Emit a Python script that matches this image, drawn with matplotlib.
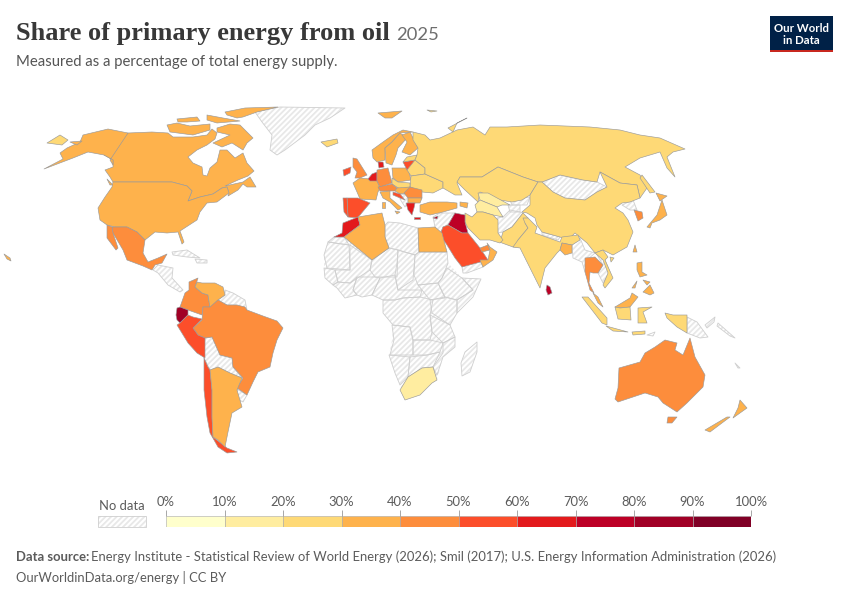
import matplotlib
matplotlib.use("Agg")
import matplotlib.pyplot as plt
import numpy as np
from matplotlib.collections import PolyCollection
from matplotlib.colors import BoundaryNorm, ListedColormap
from matplotlib.patches import Rectangle

plt.rcParams['font.family'] = ['Lato', 'DejaVu Sans']
plt.rcParams['hatch.linewidth'] = 1.3

# Legend
bin_edges = [0, 10, 20, 30, 40, 50, 60, 70, 80, 90, 100]
bin_colors = ['#ffffcc', '#ffeda0', '#fed976', '#feb24c', '#fd8d3c', '#fc4e2a',
              '#e31a1c', '#bd0026', '#a10026', '#800026']
tick_labels = ['0%', '10%', '20%', '30%', '40%', '50%', '60%', '70%', '80%', '90%', '100%']

# Country outlines, in picture pixels
# North America
canada = [(128, 133), (152, 132), (168, 133), (173, 137), (193, 137), (207, 135), (212, 129), (217, 133), (215, 139),
          (207, 145), (197, 150), (188, 157), (193, 163), (202, 167), (203, 175), (207, 176), (210, 168), (217, 162),
          (220, 150), (227, 150), (235, 158), (243, 153), (247, 163), (254, 171), (248, 176), (238, 180), (225, 186),
          (243, 182), (250, 177), (256, 187), (247, 187), (243, 184), (238, 190), (228, 196), (229, 193), (227, 187),
          (222, 188), (213, 194), (200, 197), (188, 201), (192, 191), (187, 186), (172, 182), (113, 182), (110, 177),
          (105, 170), (113, 167), (113, 160), (104, 155)]
baffin = [(217, 128), (230, 124), (240, 125), (253, 138), (247, 143), (243, 150), (232, 143), (222, 147), (213, 143), (230, 135), (217, 132)]
victoria = [(167, 125), (177, 123), (190, 126), (210, 124), (210, 130), (193, 135), (170, 132)]
ellesmere = [(225, 112), (245, 108), (278, 107), (257, 112), (243, 117), (237, 118), (227, 115)]
banks = [(177, 119), (197, 117), (200, 121), (187, 122), (178, 122)]
devon = [(207, 115), (223, 118), (240, 121), (217, 123), (207, 120)]
vancouver = [(107, 179), (113, 185), (110, 185)]
alaska = [(128, 133), (108, 129), (83, 135), (80, 142), (67, 148), (60, 153), (63, 159), (44, 169), (73, 158), (88, 152),
          (104, 155), (113, 160), (113, 165), (110, 160)]
kodiak = [(70, 142), (82, 141), (77, 145)]
usa = [(113, 182), (172, 182), (187, 186), (192, 191), (188, 201), (200, 197), (213, 194), (222, 188), (227, 187), (229, 193),
       (217, 202), (207, 203), (200, 212), (197, 220), (180, 231), (184, 242), (182, 244), (178, 232), (167, 233), (155, 232),
       (145, 240), (137, 232), (127, 227), (115, 227), (107, 225), (100, 220), (98, 208), (105, 197), (112, 187)]
hawaii = [(4, 254), (10, 258), (11, 261), (7, 259)]
mexico = [(115, 227), (127, 227), (137, 232), (145, 240), (143, 253), (148, 262), (158, 258), (167, 254), (162, 263), (155, 265),
          (152, 270), (143, 266), (127, 260), (123, 250), (113, 233), (112, 227)]
baja = [(107, 225), (112, 227), (113, 233), (118, 248), (116, 250), (107, 238)]
central_america = [(153, 270), (158, 265), (173, 268), (172, 278), (183, 290), (180, 292), (168, 285), (158, 273)]
cuba = [(172, 252), (187, 250), (200, 258), (187, 257), (173, 255)]
hispaniola = [(195, 259), (207, 260), (207, 263), (197, 263)]
greenland = [(255, 112), (280, 107), (345, 108), (330, 118), (315, 125), (305, 135), (285, 150), (277, 155), (270, 150), (272, 135), (262, 122)]

# South America
colombia = [(189, 282), (198, 278), (195, 287), (202, 293), (208, 295), (210, 307), (203, 307), (202, 315), (188, 310), (180, 307), (185, 293), (189, 290)]
venezuela = [(197, 282), (202, 283), (215, 283), (223, 287), (225, 295), (218, 300), (210, 308), (208, 295), (202, 293), (195, 287)]
guianas = [(225, 290), (233, 293), (245, 300), (247, 310), (237, 305), (227, 305), (218, 300), (225, 295)]
brazil = [(210, 307), (218, 300), (227, 305), (237, 305), (245, 307), (247, 310), (263, 316), (277, 321), (283, 328), (277, 340), (273, 353),
          (270, 367), (258, 372), (253, 382), (247, 395), (240, 390), (237, 388), (243, 378), (233, 367), (232, 358), (220, 355), (212, 337),
          (205, 338), (198, 335), (193, 328), (202, 320), (203, 307)]
ecuador = [(177, 308), (180, 307), (188, 310), (188, 315), (180, 323), (177, 320), (176, 315)]
peru = [(180, 323), (188, 315), (193, 317), (202, 319), (193, 328), (198, 335), (205, 338), (205, 358), (197, 353), (188, 343), (177, 325)]
chile = [(204, 358), (208, 367), (210, 370), (212, 390), (212, 417), (213, 437), (227, 448), (237, 452), (227, 453), (218, 447), (210, 433), (207, 417), (204, 390), (204, 375)]
argentina = [(210, 370), (218, 367), (230, 373), (242, 378), (237, 390), (242, 407), (232, 413), (228, 432), (225, 447), (218, 440), (213, 437), (212, 417), (212, 390)]
bolivia = [(205, 338), (212, 337), (220, 355), (232, 358), (233, 367), (242, 378), (230, 373), (218, 367), (210, 370), (204, 358)]
uruguay = [(237, 389), (247, 395), (243, 402), (236, 398)]

# Europe
iceland = [(321, 142), (337, 139), (338, 143), (327, 147)]
svalbard = [(378, 113), (402, 111), (392, 118), (385, 118)]
norway = [(373, 158), (372, 150), (383, 142), (393, 135), (403, 130), (413, 132), (400, 133), (392, 142), (385, 148), (385, 160), (377, 162)]
sweden = [(385, 148), (392, 142), (400, 133), (407, 138), (398, 148), (396, 155), (392, 165), (386, 163)]
finland = [(402, 135), (410, 132), (418, 148), (410, 155), (402, 152), (407, 142)]
uk = [(353, 158), (357, 159), (367, 175), (360, 178), (355, 178), (357, 172), (353, 167)]
ireland = [(343, 170), (351, 167), (350, 173), (344, 176)]
france = [(353, 183), (360, 178), (370, 179), (377, 181), (380, 188), (378, 192), (376, 200), (360, 199), (357, 192)]
spain = [(347, 198), (358, 198), (370, 203), (360, 215), (357, 218), (348, 217)]
portugal = [(343, 198), (347, 198), (348, 217), (344, 212)]
benelux = [(368, 179), (372, 174), (377, 172), (377, 181), (370, 181)]
denmark = [(378, 162), (383, 162), (384, 167), (379, 168)]
germany = [(377, 170), (388, 168), (392, 183), (380, 187), (377, 181)]
poland = [(392, 168), (408, 168), (411, 180), (398, 182), (393, 178)]
lithuania = [(403, 162), (415, 160), (417, 167), (407, 170)]
latvia_estonia = [(407, 157), (417, 155), (415, 160), (403, 162)]
belarus = [(415, 160), (425, 168), (425, 174), (411, 176), (407, 170)]
ukraine = [(411, 176), (425, 174), (443, 182), (443, 188), (433, 193), (422, 192), (410, 187)]
czechia = [(392, 178), (398, 182), (410, 183), (410, 187), (400, 189), (392, 184)]
austria = [(378, 187), (392, 184), (397, 188), (395, 191), (380, 191)]
italy = [(380, 192), (390, 191), (390, 198), (402, 208), (398, 210), (390, 202), (383, 198)]
sardinia = [(382, 202), (385, 202), (385, 208), (382, 208)]
sicily = [(395, 211), (400, 212), (397, 214)]
hungary = [(397, 188), (410, 187), (413, 192), (400, 194), (395, 191)]
romania = [(410, 187), (422, 190), (422, 198), (408, 198), (404, 193)]
bulgaria = [(408, 198), (422, 198), (420, 203), (408, 203)]
croatia = [(393, 192), (400, 194), (405, 200), (400, 198), (393, 195)]
serbia_bosnia = [(400, 194), (408, 195), (408, 203), (405, 207), (400, 199)]
greece = [(406, 203), (415, 203), (414, 208), (412, 215), (408, 210)]
crete = [(414, 217), (420, 217), (420, 219), (414, 219)]
cyprus = [(433, 218), (438, 216), (437, 219)]
turkey = [(420, 205), (430, 202), (447, 202), (457, 203), (457, 208), (443, 212), (430, 215), (420, 212)]
caucasus = [(460, 202), (468, 203), (467, 208), (460, 206)]

# Russia and Central Asia
russia = [(413, 132), (425, 135), (430, 140), (440, 138), (457, 130), (473, 127), (485, 135), (490, 127), (507, 127), (540, 125), (590, 127),
          (620, 130), (640, 135), (660, 138), (685, 149), (673, 152), (667, 157), (675, 177), (667, 168), (660, 152), (650, 155), (640, 158),
          (625, 167), (640, 175), (647, 188), (640, 198), (637, 185), (620, 183), (600, 172), (597, 182), (583, 180), (560, 175), (542, 182),
          (538, 182), (523, 177), (498, 167), (482, 177), (460, 177), (457, 183), (462, 195), (455, 195), (443, 188), (443, 182), (425, 174),
          (425, 168), (415, 160), (417, 155), (418, 148), (413, 140)]
chukotka = [(47, 143), (60, 135), (68, 140), (62, 145)]
novaya_zemlya = [(448, 128), (467, 118), (457, 123), (453, 132)]
franz_josef = [(427, 110), (437, 111), (431, 112)]
sakhalin = [(642, 175), (655, 192), (650, 193), (640, 178)]
kazakhstan = [(460, 177), (482, 177), (498, 167), (523, 177), (538, 182), (530, 195), (522, 200), (512, 202), (500, 200), (480, 192), (478, 202), (465, 190), (457, 182)]
uzbekistan = [(478, 193), (488, 193), (510, 205), (502, 205), (497, 207), (480, 200)]
turkmenistan = [(475, 205), (480, 200), (497, 207), (503, 217), (493, 215), (483, 212), (477, 212)]
kyrgyzstan = [(510, 200), (530, 197), (527, 205), (512, 205)]
tajikistan = [(508, 205), (520, 205), (520, 212), (510, 212)]
afghanistan = [(497, 218), (503, 217), (510, 210), (520, 212), (523, 213), (512, 227), (503, 232), (498, 233)]
mongolia = [(542, 182), (560, 175), (583, 180), (597, 182), (607, 187), (597, 192), (585, 200), (565, 198), (553, 192)]

# Middle East and Africa
pakistan = [(500, 242), (503, 232), (512, 227), (523, 213), (528, 218), (525, 223), (528, 228), (518, 240), (520, 247), (513, 247), (502, 243)]
iran = [(465, 213), (472, 217), (477, 212), (483, 212), (493, 215), (498, 220), (498, 233), (503, 240), (500, 243), (490, 240), (480, 240), (468, 228), (465, 222)]
iraq = [(455, 213), (465, 215), (465, 222), (468, 233), (462, 233), (448, 225)]
saudi = [(443, 227), (448, 225), (462, 233), (468, 233), (480, 248), (488, 260), (462, 267), (455, 258), (447, 245), (440, 235)]
uae = [(480, 248), (488, 245), (490, 250), (482, 252)]
oman = [(487, 243), (490, 247), (497, 252), (493, 260), (483, 267), (480, 260), (488, 260), (490, 250)]
yemen = [(462, 267), (480, 260), (483, 267), (467, 273), (463, 273)]
levant = [(433, 217), (440, 213), (455, 213), (448, 225), (443, 227), (440, 235), (435, 227)]
egypt = [(418, 228), (435, 227), (442, 233), (447, 252), (419, 252)]
morocco = [(334, 237), (342, 233), (343, 223), (358, 217), (360, 225), (344, 237)]
algeria = [(358, 217), (382, 213), (385, 225), (385, 237), (389, 248), (372, 260), (344, 237), (360, 225)]
libya = [(385, 225), (388, 222), (400, 223), (418, 228), (419, 252), (415, 255), (398, 250), (389, 248), (385, 237)]
africa_land = [(334, 237), (328, 242), (324, 255), (324, 268), (325, 278), (333, 285), (337, 288), (345, 298), (357, 295), (362, 297), (372, 295),
               (383, 300), (383, 313), (393, 325), (392, 340), (389, 355), (395, 373), (400, 385), (405, 400), (437, 380), (443, 357), (455, 347),
               (455, 337), (450, 325), (457, 313), (473, 297), (481, 279), (462, 278), (448, 263), (447, 252), (419, 252), (389, 248), (372, 260), (344, 237)]
w_sahara = [(328, 242), (334, 237), (344, 237), (349, 245)]
mauritania = [(328, 242), (349, 245), (350, 270), (327, 268), (324, 255)]
mali = [(350, 245), (372, 260), (370, 270), (350, 283), (338, 282), (335, 270), (350, 270)]
niger = [(372, 260), (389, 248), (398, 250), (397, 277), (375, 277), (370, 270)]
chad = [(398, 250), (415, 255), (413, 280), (398, 290), (395, 275), (397, 263)]
sudan = [(419, 252), (447, 252), (448, 263), (442, 278), (438, 283), (418, 285), (414, 275), (415, 255)]
ethiopia = [(442, 278), (447, 268), (462, 278), (473, 290), (457, 300), (445, 297), (438, 283)]
somalia = [(462, 278), (481, 279), (473, 297), (457, 313), (457, 300), (473, 290)]
nigeria = [(353, 290), (357, 277), (375, 277), (380, 278), (372, 295), (362, 297), (357, 295)]
cameroon_car = [(372, 295), (380, 278), (395, 275), (398, 290), (422, 290), (420, 297), (403, 298), (395, 300), (383, 300)]
south_sudan = [(418, 285), (438, 283), (445, 298), (430, 300), (422, 290)]
drc = [(395, 300), (403, 298), (420, 297), (433, 300), (430, 315), (432, 332), (430, 340), (413, 340), (410, 327), (393, 325), (383, 313), (383, 300)]
kenya_uganda = [(430, 300), (445, 297), (457, 300), (457, 313), (450, 325), (432, 313)]
tanzania = [(430, 315), (450, 325), (455, 337), (443, 343), (432, 332)]
angola = [(392, 325), (410, 327), (413, 340), (413, 355), (390, 355), (394, 340)]
zambia = [(413, 340), (430, 340), (443, 343), (440, 352), (427, 355), (413, 355)]
mozambique = [(455, 337), (455, 347), (443, 357), (437, 375), (433, 367), (443, 353), (443, 343)]
namibia = [(389, 355), (410, 357), (408, 377), (400, 385), (395, 373)]
botswana_zimbabwe = [(410, 357), (427, 355), (440, 352), (433, 367), (422, 368), (408, 377)]
senegal_guinea = [(324, 268), (335, 270), (338, 282), (333, 285), (325, 278)]
ivory_ghana = [(338, 282), (350, 283), (357, 277), (353, 290), (357, 295), (345, 298), (337, 288), (333, 285)]
madagascar = [(477, 342), (477, 352), (470, 372), (462, 376), (461, 363), (465, 352)]
south_africa = [(408, 377), (422, 368), (433, 367), (437, 380), (432, 383), (420, 395), (405, 400), (400, 390)]

# Asia
china = [(530, 195), (538, 182), (542, 182), (553, 192), (565, 198), (585, 200), (597, 192), (607, 187), (600, 172), (620, 183), (637, 185),
         (640, 198), (630, 202), (622, 203), (615, 208), (623, 213), (628, 220), (633, 232), (627, 247), (613, 255), (603, 250), (595, 253),
         (587, 243), (575, 233), (568, 240), (560, 237), (542, 232), (537, 225), (535, 218), (527, 213), (522, 212), (530, 205)]
india = [(523, 218), (528, 218), (537, 227), (535, 233), (560, 242), (562, 237), (578, 235), (580, 240), (572, 245), (562, 243), (560, 250),
         (557, 253), (545, 268), (540, 288), (530, 268), (520, 248), (513, 247), (518, 240), (528, 228), (525, 223)]
bangladesh = [(562, 243), (572, 245), (572, 253), (565, 255), (560, 250)]
nepal = [(542, 232), (560, 237), (558, 240), (542, 235)]
myanmar = [(572, 245), (580, 238), (585, 250), (595, 253), (587, 260), (588, 272), (585, 272), (582, 262), (573, 258)]
thailand = [(585, 258), (595, 257), (603, 265), (598, 273), (593, 273), (590, 272), (589, 283), (594, 293), (590, 290), (585, 272)]
indochina = [(596, 253), (603, 255), (610, 272), (603, 283), (598, 273), (603, 265)]
vietnam = [(595, 253), (603, 250), (608, 257), (605, 260), (613, 278), (605, 288), (603, 285), (608, 273), (603, 260)]
malaya = [(593, 293), (598, 297), (603, 307), (598, 303)]
sabah_sarawak = [(615, 307), (630, 298), (632, 293), (638, 297), (630, 307), (620, 308)]
kalimantan = [(615, 307), (620, 308), (630, 307), (631, 320), (618, 319)]
sumatra = [(582, 297), (588, 297), (607, 318), (607, 325), (602, 323)]
java = [(606, 326), (628, 332), (613, 331)]
sulawesi = [(638, 308), (652, 307), (643, 312), (647, 323), (638, 323)]
sunda = [(632, 332), (645, 331), (645, 334), (633, 335)]
west_papua = [(665, 313), (673, 315), (687, 315), (687, 333), (677, 327), (667, 318)]
png = [(687, 317), (697, 322), (708, 337), (700, 338), (687, 333)]
new_britain = [(705, 325), (715, 317), (714, 322), (707, 328)]
solomons = [(718, 323), (735, 338), (730, 336), (717, 326)]
new_caledonia = [(735, 363), (740, 368), (738, 368)]
timor = [(647, 335), (655, 332), (653, 336)]
luzon = [(637, 263), (642, 262), (642, 272), (647, 275), (640, 277), (637, 270)]
visayas = [(643, 280), (650, 282), (647, 285)]
mindanao = [(643, 292), (650, 285), (654, 293), (650, 295)]
palawan = [(632, 288), (637, 281), (635, 288)]
taiwan = [(635, 245), (637, 252), (633, 252)]
hainan = [(610, 257), (614, 258), (611, 262)]
sri_lanka = [(547, 285), (550, 287), (552, 293), (548, 295), (546, 290)]
honshu = [(647, 227), (657, 215), (662, 200), (667, 215), (660, 220), (652, 223), (650, 228)]
hokkaido = [(656, 193), (667, 196), (660, 201)]
south_korea = [(634, 210), (642, 212), (643, 218), (638, 221)]
north_korea = [(622, 205), (633, 200), (637, 210), (630, 210)]

# Oceania
australia = [(615, 399), (618, 388), (619, 368), (640, 362), (645, 353), (655, 347), (665, 340), (677, 343), (675, 350), (683, 355), (690, 338),
             (695, 357), (705, 375), (703, 387), (687, 403), (677, 412), (663, 403), (658, 397), (645, 393), (630, 398), (618, 402)]
tasmania = [(668, 417), (677, 417), (672, 423), (667, 423)]
nz_north = [(740, 400), (747, 408), (733, 418), (738, 408)]
nz_south = [(730, 417), (710, 432), (705, 430), (727, 417)]

# Places without data
no_data_shapes = [africa_land, greenland, central_america, cuba, hispaniola, guianas, bolivia, uruguay, serbia_bosnia, kyrgyzstan, tajikistan, afghanistan,
                  mongolia, yemen, levant, libya, w_sahara, mauritania, mali, niger, chad, sudan, ethiopia, somalia, nigeria, cameroon_car,
                  south_sudan, drc, kenya_uganda, tanzania, angola, zambia, mozambique, namibia, botswana_zimbabwe, senegal_guinea,
                  ivory_ghana, madagascar, nepal, myanmar, indochina, png, new_britain, solomons, new_caledonia, timor, north_korea]

# Places with a share, same order in both lists
shapes = [canada, baffin, victoria, ellesmere, banks, devon, vancouver, alaska, kodiak, usa, hawaii, mexico, baja,
          colombia, venezuela, brazil, ecuador, peru, chile, argentina,
          iceland, svalbard, norway, sweden, finland, uk, ireland, france, spain, portugal, benelux, denmark,
          germany, poland, lithuania, latvia_estonia, belarus, ukraine, czechia, austria, italy, sardinia, sicily,
          hungary, romania, bulgaria, croatia, greece, crete, cyprus, turkey, caucasus,
          russia, chukotka, novaya_zemlya, franz_josef, sakhalin, kazakhstan, uzbekistan, turkmenistan,
          pakistan, iran, iraq, saudi, uae, oman, egypt, morocco, algeria, south_africa,
          china, india, bangladesh, thailand, vietnam, malaya, sabah_sarawak, kalimantan, sumatra, java, sulawesi, sunda, west_papua,
          luzon, visayas, mindanao, palawan, taiwan, hainan, sri_lanka, honshu, hokkaido, south_korea,
          australia, tasmania, nz_north, nz_south]
shares = [36, 36, 36, 36, 36, 36, 36, 36, 36, 37, 37, 42, 42,
          44, 34, 45, 85, 55, 54, 35,
          25, 35, 33, 33, 34, 42, 52, 35, 52, 55, 62, 61,
          41, 35, 58, 28, 23, 24, 27, 41, 37, 37, 37,
          33, 42, 35, 52, 62, 62, 75, 35, 33,
          23, 23, 23, 23, 23, 25, 14, 13,
          26, 28, 77, 56, 44, 37, 36, 64, 36, 16,
          21, 27, 33, 45, 28, 36, 36, 27, 27, 27, 27, 27, 27,
          35, 35, 35, 35, 38, 27, 75, 37, 37, 42,
          42, 42, 36, 36]

fig = plt.figure(figsize=(8.5, 6), dpi=100)
ax = fig.add_axes([0, 0, 1, 1])
ax.set_xlim(0, 850)
ax.set_ylim(600, 0)
ax.axis('off')

cmap = ListedColormap(bin_colors)
norm = BoundaryNorm(bin_edges, cmap.N)

hatched = PolyCollection(no_data_shapes, facecolors='white', edgecolors='#e8e8e8', linewidths=0, hatch='//////')
ax.add_collection(hatched)
ax.add_collection(PolyCollection(no_data_shapes[1:], facecolors='none', edgecolors='#cfcfcf', linewidths=0.6))

land = PolyCollection(shapes, array=np.array(shares, dtype=float), cmap=cmap, norm=norm, edgecolors='#9a9a9a', linewidths=0.45)
ax.add_collection(land)

# Header
ax.text(16, 40, 'Share of primary energy from oil', family='Liberation Serif', weight='bold', fontsize=19, color='#383838')
ax.text(396, 40, '2025', fontsize=13.2, color='#6e6e6e')
ax.text(16, 66, 'Measured as a percentage of total energy supply.', fontsize=10.7, color='#555555')

# Logo
ax.add_patch(Rectangle((770, 16), 63, 36, facecolor='#002147', edgecolor='none'))
ax.add_patch(Rectangle((770, 49.5), 63, 2.5, facecolor='#c8281f', edgecolor='none'))
ax.text(801.5, 32, 'Our World', ha='center', va='baseline', fontsize=8.2, weight='bold', color='white')
ax.text(801.5, 44, 'in Data', ha='center', va='baseline', fontsize=8.2, weight='bold', color='white')

# Footer
ax.text(16, 561, 'Data source:', fontsize=9.4, weight='bold', color='#5b5b5b')
ax.text(91.5, 561, 'Energy Institute - Statistical Review of World Energy (2026); Smil (2017); U.S. Energy Information Administration (2026)',
        fontsize=9.37, color='#5b5b5b')
ax.text(16, 582, 'OurWorldinData.org/energy | CC BY', fontsize=9.4, color='#5b5b5b')

# Legend bar, using its own 0-100 axis
cax = fig.add_axes([166 / 850, 1 - 527 / 600, 585 / 850, 11 / 600])
cax.bar(bin_edges[:-1], [1] * len(bin_colors), width=10, align='edge', color=bin_colors, edgecolor='#a8a8a8', linewidth=0.4)
cax.set_xlim(0, 100)
cax.set_ylim(0, 1)
cax.set_yticks([])
cax.set_xticks(bin_edges, tick_labels)
cax.xaxis.tick_top()
cax.tick_params(axis='x', length=4, width=0.6, color='#999999', labelsize=9.4, labelcolor='#5b5b5b', pad=2)
for side in cax.spines.values():
    side.set_visible(False)

ax.add_patch(Rectangle((98, 516), 48, 11, facecolor='white', edgecolor='#e8e8e8', linewidth=0, hatch='//////'))
ax.add_patch(Rectangle((98, 516), 48, 11, facecolor='none', edgecolor='#cfcfcf', linewidth=0.6))
ax.text(122, 510, 'No data', ha='center', fontsize=9.4, color='#5b5b5b')

fig.savefig('out.png', dpi=100)
